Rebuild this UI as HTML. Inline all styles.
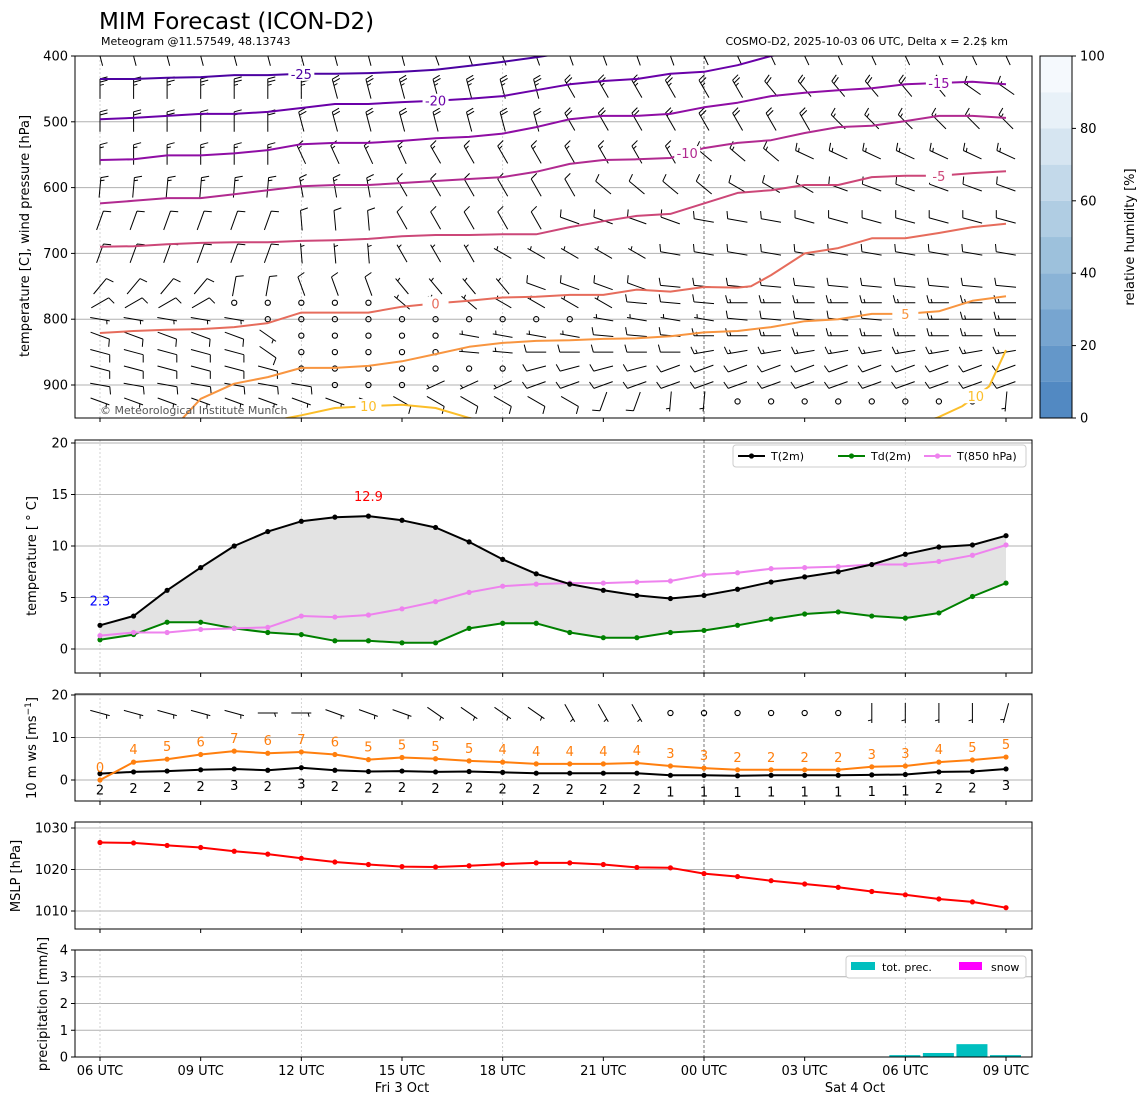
<!DOCTYPE html>
<html><head><meta charset="utf-8"><style>
html,body{margin:0;padding:0;background:#fff;}
svg{display:block;font-family:"DejaVu Sans","Liberation Sans",sans-serif;}
</style></head><body>
<svg id="chart" width="1148" height="1105" viewBox="0 0 1148 1105" xmlns="http://www.w3.org/2000/svg">
<defs>
<clipPath id="clipTop"><rect x="75" y="56" width="957" height="362"/></clipPath>
<clipPath id="clipTemp"><rect x="75" y="440" width="957" height="233"/></clipPath>
<clipPath id="clipWind"><rect x="75" y="694" width="957" height="107"/></clipPath>
<clipPath id="clipMslp"><rect x="75" y="822" width="957" height="107"/></clipPath>
<clipPath id="clipPrec"><rect x="75" y="950" width="957" height="107"/></clipPath>
</defs>
<text x="99" y="29" font-size="23">MIM Forecast (ICON-D2)</text>
<text x="101" y="45" font-size="11">Meteogram @11.57549, 48.13743</text>
<text x="1008" y="45" font-size="11" text-anchor="end">COSMO-D2, 2025-10-03 06 UTC, Delta x = 2.2$ km</text>
<g id="gTop"></g>
<g id="gCbar"></g>
<g id="gTemp"></g>
<g id="gWind"></g>
<g id="gMslp"></g>
<g id="gPrec"></g>
</svg>
<script>
// ---------- data ----------
const hourTickLabels = ["06 UTC","09 UTC","12 UTC","15 UTC","18 UTC","21 UTC","00 UTC","03 UTC","06 UTC","09 UTC"];
const t2m = [2.3,3.2,5.7,7.9,10.0,11.4,12.4,12.8,12.9,12.5,11.8,10.4,8.7,7.3,6.3,5.7,5.2,4.9,5.2,5.8,6.5,7.0,7.5,8.2,9.2,9.9,10.1,11.0];
const td2m = [0.9,1.4,2.6,2.6,2.0,1.6,1.4,0.8,0.8,0.6,0.6,2.0,2.5,2.5,1.6,1.1,1.1,1.6,1.8,2.3,2.9,3.4,3.6,3.2,3.0,3.5,5.1,6.4];
const t850 = [1.3,1.6,1.6,1.9,2.0,2.1,3.2,3.1,3.3,3.9,4.6,5.5,6.1,6.3,6.4,6.4,6.5,6.6,7.2,7.4,7.8,7.9,8.0,8.2,8.2,8.5,9.1,10.1];
const gust10m = [0.0,4.2,4.9,6.0,6.8,6.3,6.6,6.0,4.8,5.3,5.0,4.5,4.2,3.8,3.8,3.8,4.0,3.3,2.8,2.4,2.4,2.4,2.4,3.1,3.3,4.2,4.7,5.4];
const ws10m = [1.5,1.9,2.1,2.4,2.6,2.3,2.9,2.3,2.0,2.1,1.9,2.0,1.8,1.6,1.6,1.6,1.6,1.1,1.1,1.0,1.1,1.1,1.1,1.2,1.3,1.9,2.0,2.6];
const mslp = [1026.5,1026.4,1025.8,1025.3,1024.4,1023.7,1022.7,1021.8,1021.2,1020.7,1020.6,1020.9,1021.3,1021.6,1021.6,1021.2,1020.5,1020.4,1019.0,1018.3,1017.3,1016.5,1015.7,1014.7,1013.9,1012.9,1012.2,1010.8];
const precHours = [24,25,26,27];
const precVals = [0.07,0.15,0.48,0.07];
const tempTicks = [0,5,10,15,20];
const windTicks = [0,10,20];
const mslpTicks = [1010,1020,1030];
const precTicks = [0,1,2,3,4];
const presTicks = [400,500,600,700,800,900];
const rhTicks = [0,20,40,60,80,100];
// isotherms: hours and pressures
const isoLevels = [-25,-20,-15,-10,-5,0,5,10,10];
const isoHours = [
 [0,1,2,3,4,5,6,7,8,9,10,11,12,13,14],
 [0,1,2,3,4,5,6,7,8,9,10,11,12,13,14,15,16,17,18,19,20,21],
 [0,1,2,3,4,5,6,7,8,9,10,11,12,13,14,15,16,17,18,19,20,21,22,23,24,25,26,27],
 [0,1,2,3,4,5,6,7,8,9,10,11,12,13,14,15,16,17,18,19,20,21,22,23,24,25,26,27],
 [0,1,2,3,4,5,6,7,8,9,10,11,12,13,14,15,16,17,18,19,20,21,22,23,24,25,26,27],
 [0,1,2,3,4,5,6,7,8,9,10,11,12,13,14,15,16,17,18,19,19.4,20,21,22,23,24,25,26,27],
 [2,3,4,5,6,7,8,9,10,11,12,13,14,15,16,17,18,19,20,21,22,23,24,25,26,27],
 [5,5.6,6,7,8,9,10,11,12],
 [24,24.94,25.7,26.5,27]
];
const isoPres = [
 [435,435,433,432,429,429,427,427,426,424,421,415,409,402,394],
 [496,494,491,488,488,485,479,473,473,470,468,465,461,452,443,438,435,427,424,414,400,391],
 [558,557,551,551,548,543,534,532,532,529,525,523,518,508,496,491,491,488,478,471,461,456,452,449,443,441,439,443],
 [624,620,616,616,610,604,598,596,596,593,590,587,584,576,564,558,557,555,540,532,528,517,508,506,499,491,491,494],
 [690,689,686,684,683,683,681,680,678,674,672,672,671,671,660,651,643,640,624,608,604,596,596,584,582,582,578,575],
 [821,818,816,815,812,806,790,790,790,781,776,772,767,766,763,763,755,758,751,752,750,733,700,692,677,677,669,660,655],
 [976,921,898,888,874,874,871,864,853,842,836,833,832,830,829,826,820,818,812,803,800,792,792,788,772,765],
 [956,950,946,935,932,930,935,950,961],
 [961,950,932,902,847]
];
const isoLabelHours = [6,10,25,17.5,25,10,24,8,26.1];
const isoColors = ["#4c02a1","#6a00a8","#8f0da4","#b12a90","#cc4778","#e66c5c","#f89540","#fbbe2a","#fbbe2a"];
// wind barb rows: pressure levels with segments [startHour, dirDeg, speedKt]
const barbLevels = [400,450,500,550,600,650,700,750,775,800,825,850,875,900,925];
const barbSegs = [
 [[0,345,25],[10,340,25],[18,335,25]],
 [[0,0,25],[7,345,25],[14,330,25],[20,320,20],[26,305,15]],
 [[0,0,20],[6,345,20],[14,330,20],[22,315,15]],
 [[0,0,15],[6,335,15],[10,330,15],[18,310,15],[21,295,15]],
 [[0,5,15],[6,350,15],[9,330,10],[15,310,10],[19,300,10],[22,290,10]],
 [[0,20,10],[6,355,10],[9,330,10],[14,290,10],[18,280,10],[21,285,10]],
 [[0,20,10],[6,355,5],[9,330,5],[12,300,5],[17,280,10],[20,280,10]],
 [[0,40,10],[4,10,10],[6,340,10],[9,320,5],[13,290,10],[17,275,10]],
 [[0,60,10],[4,0,0],[9,310,5],[12,300,5],[16,275,10],[19,270,15]],
 [[0,100,5],[5,0,0],[15,280,5],[19,275,10],[24,270,15]],
 [[0,110,10],[5,125,5],[6,0,0],[11,280,5],[15,275,10],[18,270,15]],
 [[0,105,10],[5,125,10],[6,0,0],[11,275,5],[13,270,10],[18,260,15]],
 [[0,105,10],[6,0,0],[13,255,10],[17,250,10]],
 [[0,100,10],[7,0,0],[10,245,5],[13,250,10]],
 [[0,110,5],[9,120,10],[15,200,10],[17,185,5],[19,0,0],[27,185,5]]
];
const wind10Segs = [[0,105,5],[5,90,5],[7,110,5],[10,125,5],[14,150,5],[17,0,0],[23,180,5],[27,195,5]];

// ---------- scales ----------
const NS="http://www.w3.org/2000/svg";
const X0=75, X1=1032;
const xH = h => 100 + h*(906/27);
const yP = p => 56 + (p-400)*0.658;
const yT = t => 649 - t*10.3;
const yW = v => 780 - v*4.25;
const yM = p => 828 + (1030-p)*4.15;
const yR = r => 1057 - r*26.75;
const yRH = v => 418 - v*3.62;

function el(tag, attrs, parent, text){
  const e=document.createElementNS(NS,tag);
  for(const k in attrs) e.setAttribute(k, attrs[k]);
  if(text!==undefined) e.textContent=text;
  parent.appendChild(e); return e;
}
const gTop=document.getElementById('gTop'), gCbar=document.getElementById('gCbar'),
 gTemp=document.getElementById('gTemp'), gWind=document.getElementById('gWind'),
 gMslp=document.getElementById('gMslp'), gPrec=document.getElementById('gPrec');

function vgrid(g, y0, y1){
  [0,6,12,24].forEach(h=>{
    const l=el('line',{x1:xH(h),x2:xH(h),y1:y0,y2:y1,stroke:'#c8c8c8','stroke-width':0.8,'stroke-dasharray':'2,2'},g);
    
    
  });
  const m=el('line',{x1:xH(18),x2:xH(18),y1:y0,y2:y1,stroke:'#555','stroke-width':0.8,'stroke-dasharray':'3,2'},g);
  
  
}
function hgrid(g, ticks, fy, lab){
  ticks.forEach(t=>{
    const y=fy(t);
    const l=el('line',{x1:X0,x2:X1,y1:y,y2:y,stroke:'#b0b0b0','stroke-width':1},g);
    
    
    el('line',{x1:X0-4,x2:X0,y1:y,y2:y,stroke:'#000','stroke-width':1},g);
    const tx=el('text',{x:X0-7,y:y+4.5,'font-size':13,'text-anchor':'end'},g,String(t));
    
    
  });
}
function xticks(g, yb){
  for(let i=0;i<hourTickLabels.length;i++){
    const x=xH(i*3);
    el('line',{x1:x,x2:x,y1:yb,y2:yb+4,stroke:'#000','stroke-width':1},g);
  }
}
function frame(g,y0,y1,name){
  const r=el('rect',{x:X0,y:y0,width:X1-X0,height:y1-y0,fill:'none',stroke:'#000','stroke-width':1},g);
  
  
}
function ylabel(g,x,y,txt,name){
  const t=el('text',{x:x,y:y,'font-size':13,'text-anchor':'middle',transform:`rotate(-90 ${x} ${y})`},g,txt);
  
  
  return t;
}
function line(g, xs, ys, color, w, name, clip, markers){
  const pts=xs.map((x,i)=>x.toFixed(1)+','+ys[i].toFixed(1)).join(' ');
  const p=el('polyline',{points:pts,fill:'none',stroke:color,'stroke-width':w,'stroke-linejoin':'round','clip-path':clip},g);
  
  
  if(markers){
    xs.forEach((x,i)=>{
      const c=el('circle',{cx:x,cy:ys[i],r:2.6,fill:color},g);
      
      
    });
  }
}
function segAt(segs,h){ let s=segs[0]; for(const q of segs){ if(q[0]<=h) s=q; } return s; }
function barb(g,cx,cy,dir,spd){
  if(spd<3){
    const c=el('circle',{cx:cx,cy:cy,r:2.6,fill:'none',stroke:'#000','stroke-width':1.1},g);
    
    
    return;
  }
  const L=20, r=dir*Math.PI/180, ux=Math.sin(r), uy=-Math.cos(r), px=-uy, py=ux;
  const tx=cx+ux*L/2, ty=cy+uy*L/2;
  let d=`M${(cx-ux*L/2).toFixed(1)},${(cy-uy*L/2).toFixed(1)}L${tx.toFixed(1)},${ty.toFixed(1)}`;
  let n10=Math.floor(spd/10), n5=Math.round((spd-n10*10)/5);
  let k=0;
  for(let i=0;i<n10;i++,k++){
    const bx=tx-ux*k*3.2, by=ty-uy*k*3.2;
    d+=`M${bx.toFixed(1)},${by.toFixed(1)}l${(px*7.5+ux*2).toFixed(1)},${(py*7.5+uy*2).toFixed(1)}`;
  }
  if(n5){
    if(n10===0) k=1;
    const bx=tx-ux*k*3.2, by=ty-uy*k*3.2;
    d+=`M${bx.toFixed(1)},${by.toFixed(1)}l${(px*3.8+ux*1).toFixed(1)},${(py*3.8+uy*1).toFixed(1)}`;
  }
  const p=el('path',{d:d,fill:'none',stroke:'#000','stroke-width':1},g);
  
  
}

// ---------- top panel ----------
hgrid(gTop, presTicks, yP, 'pressure');
vgrid(gTop, 56, 418);
const gBarbs=el('g',{'clip-path':'url(#clipTop)'},gTop);


barbLevels.forEach((p,ri)=>{
  for(let h=0;h<28;h++){
    const s=segAt(barbSegs[ri],h);
    barb(gBarbs,xH(h),yP(p),s[1],s[2]);
  }
});
const gIso=el('g',{'clip-path':'url(#clipTop)'},gTop);


isoLevels.forEach((lv,i)=>{
  line(gIso, isoHours[i].map(xH), isoPres[i].map(yP), isoColors[i], 2, 'isotherm-'+lv, '', false);
});
isoLevels.forEach((lv,i)=>{
  const h=isoLabelHours[i], hs=isoHours[i], ps=isoPres[i];
  let j=0; while(j<hs.length-2 && hs[j+1]<h) j++;
  const f=(h-hs[j])/(hs[j+1]-hs[j]); const p=ps[j]+f*(ps[j+1]-ps[j]);
  const x=xH(h), y=yP(p);
  const bg=el('rect',{x:x-13,y:y-7,width:26,height:14,fill:'#fff'},gIso);
  
  
  const t=el('text',{x:x,y:y+5,'font-size':13,'text-anchor':'middle',fill:isoColors[i]},gIso,String(lv));
  
  
});
const cp=el('text',{x:100,y:414,'font-size':11,fill:'#555'},gTop,'© Meteorological Institute Munich');


frame(gTop,56,418,'upper-air-frame');
xticks(gTop,418);
ylabel(gTop,29,236,'temperature [C], wind pressure [hPa]','upper-y-axis-title');

// colorbar
const blues=["#5289c2","#6497c9","#77a5d0","#8ab3d6","#9dc1dc","#b0cde3","#c3d9ea","#d6e5f1","#e8f1f8","#f5f9fd"];
for(let i=0;i<10;i++){
  const r=el('rect',{x:1040,y:yRH((i+1)*10),width:32,height:36.3,fill:blues[i]},gCbar);
  
  
}
el('rect',{x:1040,y:56,width:32,height:362,fill:'none',stroke:'#000','stroke-width':1},gCbar);
rhTicks.forEach(v=>{
  const y=yRH(v);
  el('line',{x1:1072,x2:1076,y1:y,y2:y,stroke:'#000'},gCbar);
  const t=el('text',{x:1080,y:y+4.5,'font-size':13},gCbar,String(v));
  
  
});
ylabel(gCbar,1134,237,'relative humidity [%]','colorbar-title');

// ---------- temperature panel ----------
hgrid(gTemp, tempTicks, yT, 'temperature');
vgrid(gTemp, 440, 673);
const fillPts = t2m.map((v,i)=>xH(i).toFixed(1)+','+yT(v).toFixed(1)).concat(td2m.map((v,i)=>xH(i).toFixed(1)+','+yT(v).toFixed(1)).reverse()).join(' ');
const fp=el('polygon',{points:fillPts,fill:'#e3e3e3'},gTemp);


const hx=t2m.map((v,i)=>xH(i));
line(gTemp,hx,td2m.map(yT),'#008000',2,'td2m-line','',true);
line(gTemp,hx,t850.map(yT),'#ee82ee',2,'t850-line','',true);
line(gTemp,hx,t2m.map(yT),'#000',2,'t2m-line','',true);
let imax=0; t2m.forEach((v,i)=>{ if(v>t2m[imax]) imax=i; });
const amax=el('text',{x:xH(imax),y:yT(t2m[imax])-15,'font-size':13,fill:'red','text-anchor':'middle'},gTemp,t2m[imax].toFixed(1));


const amin=el('text',{x:xH(0),y:yT(t2m[0])-20,'font-size':13,fill:'blue','text-anchor':'middle'},gTemp,t2m[0].toFixed(1));


// legend
const lg=el('g',{},gTemp);


el('rect',{x:733,y:445,width:293,height:22,rx:3,fill:'#fff',stroke:'#ccc'},lg);
[['#000','T(2m)',738],['#008000','Td(2m)',838],['#ee82ee','T(850 hPa)',924]].forEach(e=>{
  el('line',{x1:e[2],x2:e[2]+27,y1:456,y2:456,stroke:e[0],'stroke-width':2},lg);
  el('circle',{cx:e[2]+13.5,cy:456,r:2.6,fill:e[0]},lg);
  const t=el('text',{x:e[2]+33,y:460,'font-size':11},lg,e[1]);
  
  
});
frame(gTemp,440,673,'temperature-frame');
xticks(gTemp,673);
ylabel(gTemp,36,556,'temperature [$^\\circ$C]','temperature-y-axis-title').textContent='temperature [ ° C]';

// ---------- wind panel ----------
hgrid(gWind, windTicks, yW, 'wind');
vgrid(gWind, 694, 801);
for(let h=0;h<28;h++){ const s=segAt(wind10Segs,h); barb(gWind,xH(h),713,s[1],s[2]); }
line(gWind,hx,ws10m.map(yW),'#000',2,'wind-speed-line','url(#clipWind)',true);
line(gWind,hx,gust10m.map(yW),'#ff7f0e',2,'gust-line','url(#clipWind)',true);
gust10m.forEach((v,i)=>{
  const t=el('text',{x:xH(i),y:yW(v)-8,'font-size':13,fill:'#ff7f0e','text-anchor':'middle'},gWind,String(Math.round(v)));
  
  
});
ws10m.forEach((v,i)=>{
  const t=el('text',{x:xH(i),y:yW(v)+21,'font-size':13,fill:'#000','text-anchor':'middle'},gWind,String(Math.round(v)));
  
  
});
frame(gWind,694,801,'wind-frame');
xticks(gWind,801);
const wl=ylabel(gWind,36,748,'','wind-y-axis-title');
wl.textContent='';
el('tspan',{},wl,'10 m ws [ms');
el('tspan',{dy:-5,'font-size':9},wl,'−1');
el('tspan',{dy:5},wl,']');

// ---------- mslp panel ----------
hgrid(gMslp, mslpTicks, yM, 'mslp');
vgrid(gMslp, 822, 929);
line(gMslp,hx,mslp.map(yM),'red',2,'mslp-line','url(#clipMslp)',true);
frame(gMslp,822,929,'mslp-frame');
xticks(gMslp,929);
ylabel(gMslp,20,876,'MSLP [hPa]','mslp-y-axis-title');

// ---------- precipitation panel ----------
hgrid(gPrec, precTicks, yR, 'precip');
vgrid(gPrec, 950, 1057);
precHours.forEach((h,i)=>{
  const y=yR(precVals[i]);
  const r=el('rect',{x:xH(h)-16,y:y,width:31,height:1057-y,fill:'#00bfbf'},gPrec);
  
  
});
const pl=el('g',{},gPrec);


el('rect',{x:846,y:956,width:180,height:22,rx:3,fill:'#fff',stroke:'#ccc'},pl);
el('rect',{x:851,y:962,width:24,height:8,fill:'#00bfbf'},pl);
el('text',{x:882,y:971,'font-size':11},pl,'tot. prec.');
el('rect',{x:959,y:962,width:23,height:8,fill:'#ff00ff'},pl);
el('text',{x:991,y:971,'font-size':11},pl,'snow');
frame(gPrec,950,1057,'precip-frame');
xticks(gPrec,1057);
hourTickLabels.forEach((lab,i)=>{
  const t=el('text',{x:xH(i*3),y:1075,'font-size':13,'text-anchor':'middle'},gPrec,lab);
  
  
});
const d1=el('text',{x:xH(9),y:1092,'font-size':13,'text-anchor':'middle'},gPrec,'Fri 3 Oct');


const d2=el('text',{x:855,y:1092,'font-size':13,'text-anchor':'middle'},gPrec,'Sat 4 Oct');


ylabel(gPrec,47,1004,'precipitation [mm/h]','precip-y-axis-title');
</script>
</body></html>
